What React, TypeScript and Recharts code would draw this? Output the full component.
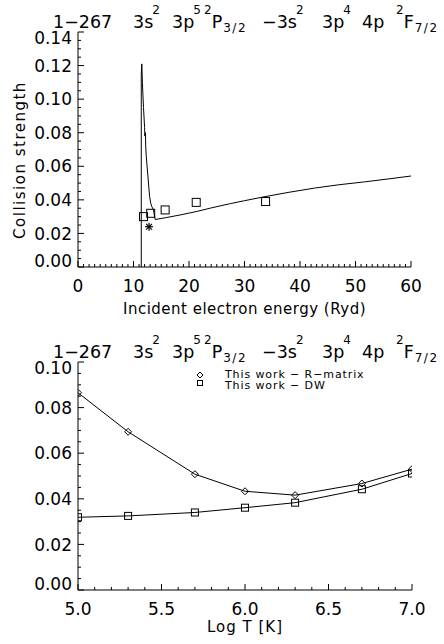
import React from 'react'
import { ComposedChart, LineChart, Line, Scatter, XAxis, YAxis, Legend } from 'recharts'

const FONT = '"DejaVu Sans", sans-serif'

// top panel: R-matrix collision strength vs incident energy (Ryd)
const energy = [11.4, 11.4, 11.5, 11.6, 11.8, 12.0, 12.05, 12.15, 12.2, 12.3, 12.9, 13.1, 13.3, 13.6, 13.9, 16, 18.4, 21.3, 24, 27.5, 30, 33.5, 38, 42.6, 47, 51.6, 56, 60]
const omega = [0, 0.115, 0.121, 0.11, 0.095, 0.083, 0.078, 0.08, 0.072, 0.066, 0.042, 0.038, 0.036, 0.034, 0.0283, 0.0295, 0.031, 0.033, 0.0352, 0.0378, 0.0395, 0.0418, 0.0445, 0.047, 0.049, 0.0507, 0.0525, 0.0542]
// DW points (squares) and the single asterisk
const dwEnergy = [11.8, 13.1, 15.7, 21.3, 33.8]
const dwOmega = [0.030, 0.032, 0.034, 0.0385, 0.039]
const starEnergy = [12.8]
const starOmega = [0.024]

// bottom panel: effective collision strength vs log T
const logT = [5.0, 5.3, 5.7, 6.0, 6.3, 6.7, 7.0]
const rmatrix = [0.0865, 0.0694, 0.0508, 0.0433, 0.0416, 0.0467, 0.053]
const dw = [0.0319, 0.0325, 0.034, 0.0361, 0.0383, 0.0442, 0.0511]

const topXMajor = [0, 10, 20, 30, 40, 50, 60]
const topYMajor = [0, 0.02, 0.04, 0.06, 0.08, 0.1, 0.12, 0.14]
const botXMajor = [5.0, 5.5, 6.0, 6.5, 7.0]
const botYMajor = [0, 0.02, 0.04, 0.06, 0.08, 0.1]

const steps = (lo: number, hi: number, step: number) =>
  Array.from({ length: Math.round((hi - lo) / step) + 1 }, (_, i) => +(lo + i * step).toFixed(6))

const topXTicks = steps(0, 60, 1)
const topYTicks = steps(0, 0.14, 0.005)
const botXTicks = steps(5, 7, 0.1)
const botYTicks = steps(0, 0.1, 0.005)

const curve = energy.map((x, i) => ({ x, y: omega[i] }))
const dwTop = dwEnergy.map((x, i) => ({ x, y: dwOmega[i] }))
const stars = starEnergy.map((x, i) => ({ x, y: starOmega[i] }))
const tempData = logT.map((t, i) => ({ t, rm: rmatrix[i], dw: dw[i] }))

// IDL-style ticks: pointing inward, long on majors, short on minors
const makeTick = (side: string, majors: number[], fmt?: (v: number) => string) => (props: any) => {
  const { x, y, payload } = props
  const v = payload.value
  const major = majors.some((m) => Math.abs(m - v) < 1e-9)
  const len = major ? 6 : 3
  let l = [x, y, x, y]
  let label: any = null
  if (side === 'bottom') {
    l = [x, y, x, y - len]
    if (major && fmt)
      label = <text x={x} y={y + 25} textAnchor="middle" fontSize={17} fontFamily={FONT} fill="#000">{fmt(v)}</text>
  } else if (side === 'top') {
    l = [x, y, x, y + len]
  } else if (side === 'left') {
    l = [x, y, x + len, y]
    if (major && fmt) {
      // end labels are nudged inside the frame
      const shift = v === majors[0] ? -6 : v === majors[majors.length - 1] ? 6 : 0
      label = (
        <text x={x - 6} y={y + shift} dy="0.36em" textAnchor="end" fontSize={17} fontFamily={FONT} fill="#000">
          {fmt(v)}
        </text>
      )
    }
  } else {
    l = [x, y, x - len, y]
  }
  return (
    <g>
      <line x1={l[0]} y1={l[1]} x2={l[2]} y2={l[3]} stroke="#000" strokeWidth={1} />
      {label}
    </g>
  )
}

const squareShape = (size: number) => (p: any) => (
  <rect x={p.cx - size / 2} y={p.cy - size / 2} width={size} height={size} fill="none" stroke="#000" strokeWidth={1} />
)

const diamondDot = (p: any) => (
  <path
    key={`d${p.index}`}
    d={`M${p.cx},${p.cy - 3.5}L${p.cx + 3.5},${p.cy}L${p.cx},${p.cy + 3.5}L${p.cx - 3.5},${p.cy}Z`}
    fill="none"
    stroke="#000"
  />
)
const squareDot = (p: any) => (
  <rect key={`s${p.index}`} x={p.cx - 3.5} y={p.cy - 3.5} width={7} height={7} fill="none" stroke="#000" />
)

const starShape = (p: any) => {
  const r = 4
  const d = r * 0.72
  return (
    <g stroke="#000" strokeWidth={1.2}>
      <line x1={p.cx - r} y1={p.cy} x2={p.cx + r} y2={p.cy} />
      <line x1={p.cx} y1={p.cy - r} x2={p.cx} y2={p.cy + r} />
      <line x1={p.cx - d} y1={p.cy - d} x2={p.cx + d} y2={p.cy + d} />
      <line x1={p.cx - d} y1={p.cy + d} x2={p.cx + d} y2={p.cy - d} />
    </g>
  )
}

const Sup = ({ children }: any) => <span style={{ fontSize: 12, position: 'relative', top: -14, marginLeft: -1 }}>{children}</span>
const Sub = ({ children }: any) => (
  <span style={{ fontSize: 12, position: 'relative', top: 4, letterSpacing: 1.5, marginLeft: 1 }}>{children}</span>
)

function Title({ baseline }: { baseline: number }) {
  const parts: [number, React.ReactNode][] = [
    [53, '1−267'],
    [133, <>3s<Sup>2</Sup></>],
    [172, <>3p<Sup>5</Sup></>],
    [205, <><Sup>2</Sup>P<Sub>3/2</Sub></>],
    [262, <>−3s<Sup>2</Sup></>],
    [322, <>3p<Sup>4</Sup></>],
    [362, '4p'],
    [397, <><Sup>2</Sup>F<Sub>7/2</Sub></>],
  ]
  return (
    <>
      {parts.map(([left, content], i) => (
        <div
          key={i}
          style={{
            position: 'absolute',
            left,
            top: baseline - 14.5,
            fontFamily: FONT,
            fontSize: 17.5,
            lineHeight: '18px',
            whiteSpace: 'pre',
            color: '#000',
          }}
        >
          {content}
        </div>
      ))}
    </>
  )
}

const LegendBox = () => (
  <svg width={200} height={32} style={{ display: 'block' }}>
    <path d="M5,7L8,10L5,13L2,10Z" fill="none" stroke="#000" />
    <rect x={2.5} y={15.5} width={5} height={5} fill="none" stroke="#000" />
    <g fontFamily={FONT} fontSize={11} letterSpacing={0.9} fill="#000" style={{ whiteSpace: 'pre' }}>
      <text x={30} y={13}>This work  −  R−matrix</text>
      <text x={30} y={24}>This work  −  DW</text>
    </g>
  </svg>
)

const axisLine = { stroke: '#000', strokeWidth: 1 }

export default function App() {
  return (
    <div style={{ position: 'absolute', left: 0, top: 0, width: 444, height: 644, background: '#fff', overflow: 'hidden' }}>
      <Title baseline={27} />
      <div style={{ position: 'absolute', left: 0, top: 0 }}>
        <ComposedChart width={444} height={322} margin={{ top: 32, right: 33, bottom: 5, left: 0 }}>
          <XAxis
            xAxisId="b"
            dataKey="x"
            type="number"
            domain={[0, 60]}
            allowDataOverflow
            ticks={topXTicks}
            interval={0}
            height={50}
            tickSize={0}
            tickMargin={0}
            tickLine={false}
            axisLine={axisLine}
            tick={makeTick('bottom', topXMajor, (v) => String(v))}
            label={{
              content: () => (
                <text x={244.5} y={314} textAnchor="middle" fontSize={15} letterSpacing={0.5} fontFamily={FONT} fill="#000">
                  Incident electron energy (Ryd)
                </text>
              ),
            }}
          />
          <XAxis
            xAxisId="t"
            orientation="top"
            type="number"
            domain={[0, 60]}
            allowDataOverflow
            ticks={topXTicks}
            interval={0}
            height={0}
            tickSize={0}
            tickMargin={0}
            tickLine={false}
            axisLine={axisLine}
            tick={makeTick('top', topXMajor)}
          />
          <YAxis
            yAxisId="l"
            type="number"
            domain={[0, 0.14]}
            allowDataOverflow
            ticks={topYTicks}
            interval={0}
            width={78}
            tickSize={0}
            tickMargin={0}
            tickLine={false}
            axisLine={axisLine}
            tick={makeTick('left', topYMajor, (v) => v.toFixed(2))}
            label={{
              content: () => (
                <text
                  transform="translate(20,160) rotate(-90)"
                  textAnchor="middle"
                  dominantBaseline="central"
                  fontSize={15}
                  letterSpacing={1.5}
                  fontFamily={FONT}
                  fill="#000"
                >
                  Collision strength
                </text>
              ),
            }}
          />
          <YAxis
            yAxisId="r"
            orientation="right"
            type="number"
            domain={[0, 0.14]}
            allowDataOverflow
            ticks={topYTicks}
            interval={0}
            width={0}
            tickSize={0}
            tickMargin={0}
            tickLine={false}
            axisLine={axisLine}
            tick={makeTick('right', topYMajor)}
          />
          <Line
            xAxisId="b"
            yAxisId="l"
            data={curve}
            dataKey="y"
            type="linear"
            stroke="#000"
            strokeWidth={1}
            dot={false}
            isAnimationActive={false}
          />
          <Scatter xAxisId="b" yAxisId="l" data={dwTop} dataKey="y" shape={squareShape(8)} isAnimationActive={false} />
          <Scatter xAxisId="b" yAxisId="l" data={stars} dataKey="y" shape={starShape} isAnimationActive={false} />
        </ComposedChart>
      </div>

      <Title baseline={357} />
      <div style={{ position: 'absolute', left: 0, top: 340 }}>
        <LineChart width={444} height={304} data={tempData} margin={{ top: 22, right: 32, bottom: 10, left: 0 }}>
          <XAxis
            xAxisId="b"
            dataKey="t"
            type="number"
            domain={[5, 7]}
            allowDataOverflow
            ticks={botXTicks}
            interval={0}
            height={44}
            tickSize={0}
            tickMargin={0}
            tickLine={false}
            axisLine={axisLine}
            tick={makeTick('bottom', botXMajor, (v) => v.toFixed(1))}
            label={{
              content: () => (
                <text x={245} y={292} textAnchor="middle" fontSize={15} letterSpacing={1} fontFamily={FONT} fill="#000">
                  Log T [K]
                </text>
              ),
            }}
          />
          <XAxis
            xAxisId="t"
            orientation="top"
            type="number"
            domain={[5, 7]}
            allowDataOverflow
            ticks={botXTicks}
            interval={0}
            height={0}
            tickSize={0}
            tickMargin={0}
            tickLine={false}
            axisLine={axisLine}
            tick={makeTick('top', botXMajor)}
          />
          <YAxis
            yAxisId="l"
            type="number"
            domain={[0, 0.1]}
            allowDataOverflow
            ticks={botYTicks}
            interval={0}
            width={78}
            tickSize={0}
            tickMargin={0}
            tickLine={false}
            axisLine={axisLine}
            tick={makeTick('left', botYMajor, (v) => v.toFixed(2))}
          />
          <YAxis
            yAxisId="r"
            orientation="right"
            type="number"
            domain={[0, 0.1]}
            allowDataOverflow
            ticks={botYTicks}
            interval={0}
            width={0}
            tickSize={0}
            tickMargin={0}
            tickLine={false}
            axisLine={axisLine}
            tick={makeTick('right', botYMajor)}
          />
          <Legend
            layout="vertical"
            align="center"
            verticalAlign="middle"
            content={() => <LegendBox />}
            wrapperStyle={{ left: 195, top: 25, width: 200, height: 32 }}
          />
          <Line
            xAxisId="b"
            yAxisId="l"
            dataKey="rm"
            name="This work - R-matrix"
            type="linear"
            stroke="#000"
            strokeWidth={1}
            dot={diamondDot}
            isAnimationActive={false}
          />
          <Line
            xAxisId="b"
            yAxisId="l"
            dataKey="dw"
            name="This work - DW"
            type="linear"
            stroke="#000"
            strokeWidth={1}
            dot={squareDot}
            isAnimationActive={false}
          />
        </LineChart>
      </div>
    </div>
  )
}
